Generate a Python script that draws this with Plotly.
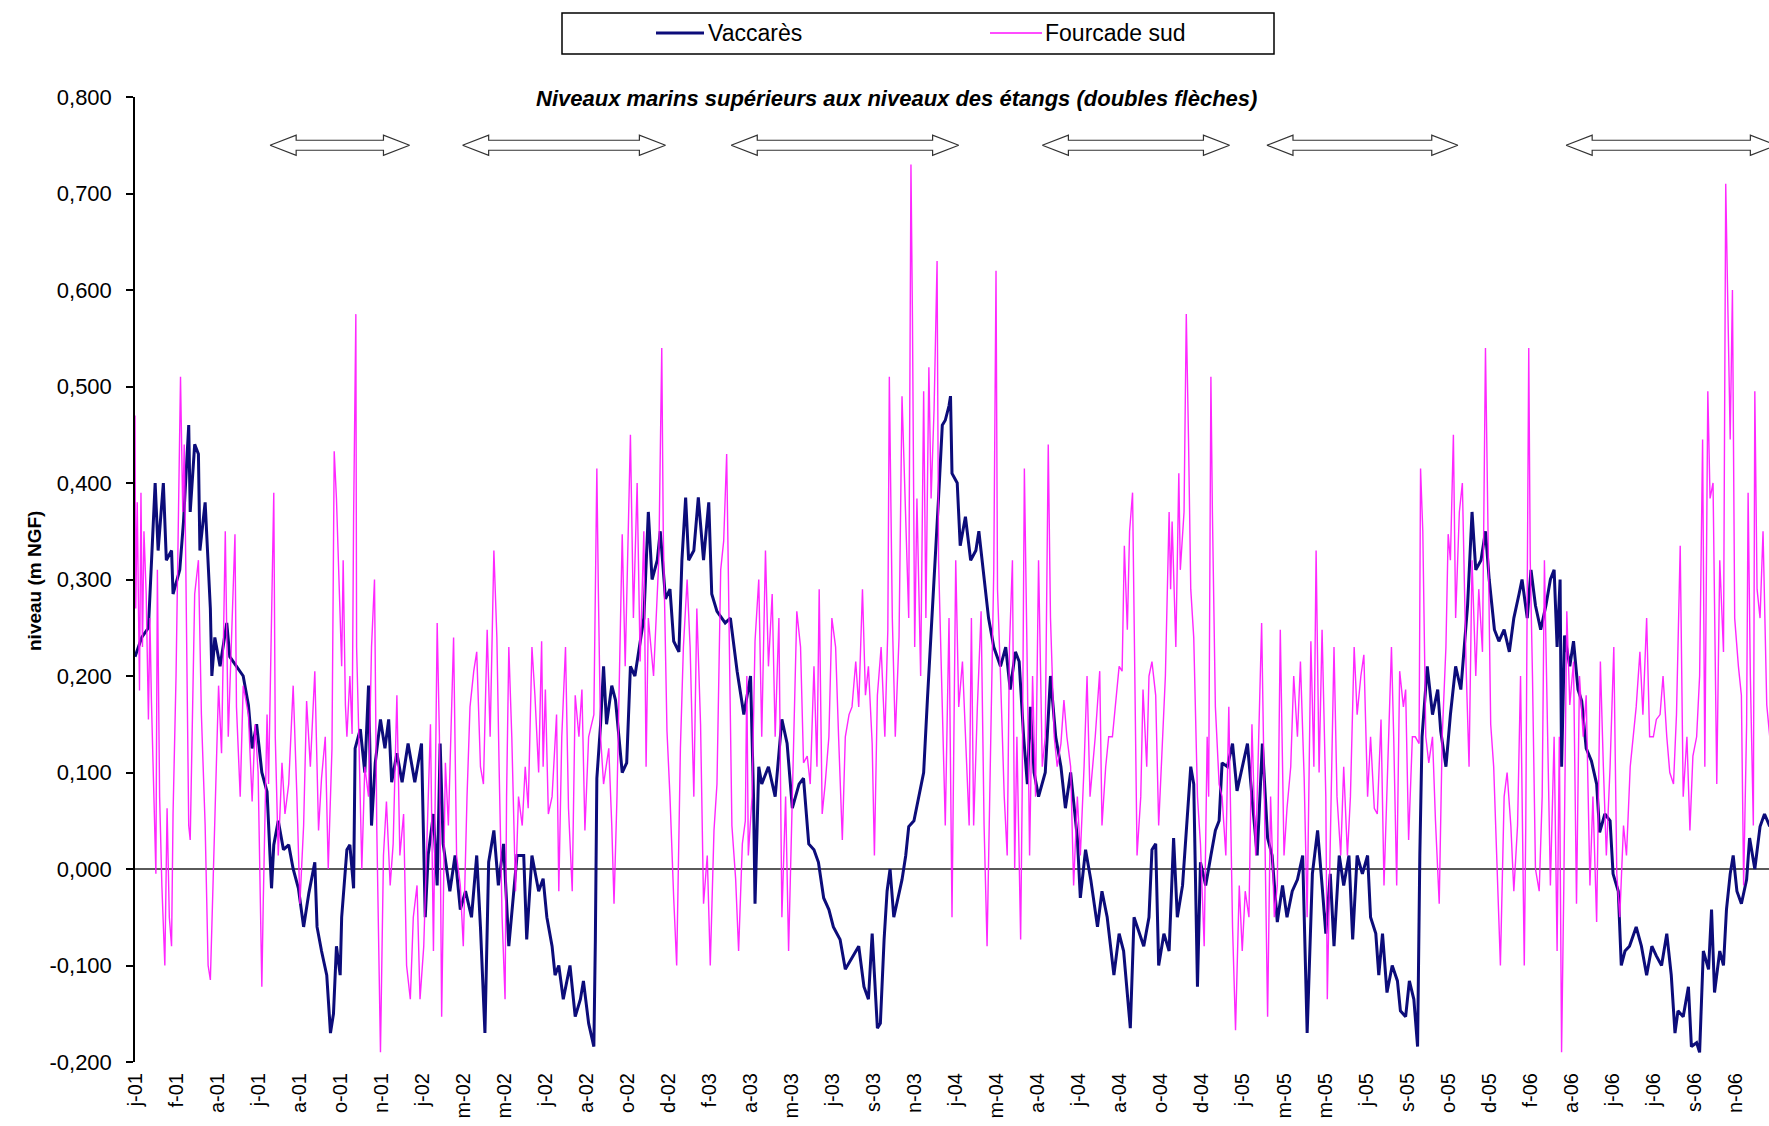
import pandas as pd
import plotly.graph_objects as go

START = pd.Timestamp("2001-01-01")
END = pd.Timestamp("2006-12-31")

# ---- Vaccarès (day offset from 2001-01-01, level m NGF) ----
vac_day = [
    0, 9, 18, 27, 31, 38, 42, 49, 51, 60,
    65, 72, 74, 80, 85, 87, 94, 101, 103, 107,
    114, 123, 127, 136, 145, 152, 157, 163, 170, 177,
    183, 186, 192, 199, 206, 212, 219, 226, 233, 241,
    244, 250, 257, 262, 266, 270, 275, 277, 284, 288,
    293, 295, 302, 308, 313, 317, 322, 329, 335, 340,
    344, 351, 358, 366, 375, 384, 389, 393, 400, 405,
    409, 413, 422, 429, 436, 443, 451, 458, 463, 469,
    474, 481, 487, 494, 501, 512, 521, 525, 532, 541,
    547, 552, 559, 563, 568, 574, 583, 590, 597, 601,
    608, 615, 617, 619, 624, 628, 632, 639, 644, 653,
    659, 664, 670, 675, 682, 688, 693, 700, 704, 711,
    717, 722, 729, 733, 738, 742, 749, 755, 762, 769,
    773, 780, 791, 798, 807, 816, 825, 829, 831, 836,
    840, 849, 858, 867, 874, 881, 890, 896, 903, 910,
    916, 923, 930, 936, 945, 952, 963, 970, 977, 983,
    988, 995, 999, 1004, 1008, 1012, 1017, 1021, 1028, 1033,
    1037, 1044, 1050, 1057, 1062, 1066, 1073, 1077, 1082, 1086,
    1091, 1093, 1095, 1102, 1106, 1113, 1120, 1127, 1131, 1138,
    1144, 1151, 1160, 1167, 1173, 1180, 1185, 1191, 1196, 1200,
    1205, 1211, 1220, 1227, 1234, 1241, 1247, 1254, 1263, 1267,
    1274, 1281, 1290, 1296, 1303, 1312, 1319, 1325, 1334, 1339,
    1346, 1352, 1359, 1363, 1368, 1372, 1379, 1386, 1392, 1397,
    1404, 1410, 1415, 1419, 1424, 1428, 1435, 1442, 1448, 1453,
    1457, 1464, 1471, 1477, 1484, 1491, 1497, 1504, 1511, 1518,
    1524, 1531, 1538, 1544, 1551, 1558, 1565, 1571, 1578, 1585,
    1591, 1596, 1602, 1607, 1614, 1620, 1627, 1632, 1638, 1645,
    1652, 1656, 1663, 1667, 1672, 1678, 1685, 1692, 1696, 1703,
    1708, 1714, 1719, 1722, 1725, 1732, 1739, 1746, 1750, 1757,
    1763, 1770, 1777, 1786, 1792, 1797, 1804, 1810, 1815, 1822,
    1828, 1835, 1842, 1848, 1855, 1859, 1866, 1871, 1877, 1884,
    1891, 1897, 1902, 1906, 1910, 1912, 1916, 1923, 1928, 1934,
    1939, 1945, 1952, 1959, 1963, 1970, 1977, 1981, 1988, 1992,
    1997, 2003, 2012, 2019, 2026, 2033, 2039, 2046, 2053, 2059,
    2064, 2068, 2075, 2082, 2086, 2093, 2097, 2102, 2109, 2113,
    2117, 2124, 2129, 2133, 2138, 2142, 2147, 2153, 2160, 2164,
    2171, 2178, 2184, 2191,
]
vac_level = [
    0.22, 0.24, 0.25, 0.40, 0.33, 0.40, 0.32, 0.33, 0.285, 0.31,
    0.36, 0.46, 0.37, 0.44, 0.43, 0.33, 0.38, 0.27, 0.20, 0.24,
    0.21, 0.255, 0.22, 0.21, 0.20, 0.17, 0.125, 0.15, 0.10, 0.08,
    -0.02, 0.025, 0.05, 0.02, 0.025, 0.0, -0.02, -0.06, -0.025, 0.007,
    -0.06, -0.085, -0.11, -0.17, -0.15, -0.08, -0.11, -0.05, 0.02, 0.025,
    -0.02, 0.125, 0.145, 0.10, 0.19, 0.045, 0.11, 0.155, 0.125, 0.155,
    0.09, 0.12, 0.09, 0.13, 0.09, 0.13, -0.05, 0.015, 0.057, -0.017,
    0.13, 0.026, -0.023, 0.014, -0.042, -0.023, -0.05, 0.014, -0.06, -0.17,
    0.007, 0.04, -0.017, 0.026, -0.08, 0.014, 0.014, -0.073, 0.014, -0.023,
    -0.01, -0.05, -0.08, -0.11, -0.10, -0.135, -0.10, -0.153, -0.135, -0.116,
    -0.16, -0.184, -0.073, 0.094, 0.15, 0.21, 0.15, 0.19, 0.175, 0.10,
    0.11, 0.21, 0.20, 0.225, 0.26, 0.37, 0.30, 0.32, 0.35, 0.28,
    0.29, 0.236, 0.225, 0.32, 0.385, 0.32, 0.33, 0.385, 0.32, 0.38,
    0.285, 0.267, 0.255, 0.26, 0.205, 0.16, 0.2, 0.075, -0.036, 0.106,
    0.088, 0.106, 0.075, 0.155, 0.13, 0.063, 0.088, 0.094, 0.026, 0.02,
    0.007, -0.03, -0.042, -0.06, -0.073, -0.104, -0.09, -0.08, -0.122, -0.135,
    -0.067, -0.165, -0.16, -0.073, -0.023, 0.0, -0.05, -0.036, -0.011, 0.014,
    0.044, 0.05, 0.075, 0.10, 0.175, 0.23, 0.32, 0.385, 0.46, 0.465,
    0.48, 0.49, 0.41, 0.40, 0.335, 0.365, 0.32, 0.33, 0.35, 0.30,
    0.26, 0.23, 0.21, 0.23, 0.186, 0.225, 0.215, 0.137, 0.088, 0.168,
    0.10, 0.075, 0.10, 0.2, 0.137, 0.106, 0.063, 0.10, 0.032, -0.03,
    0.02, -0.011, -0.06, -0.023, -0.05, -0.11, -0.067, -0.085, -0.165, -0.05,
    -0.067, -0.08, -0.05, 0.02, 0.026, -0.1, -0.067, -0.085, 0.032, -0.05,
    -0.017, 0.05, 0.106, 0.088, -0.122, 0.007, -0.017, 0.014, 0.04, 0.05,
    0.11, 0.106, 0.13, 0.081, 0.106, 0.13, 0.075, 0.014, 0.13, 0.032,
    0.014, -0.055, -0.017, -0.05, -0.023, -0.011, 0.014, -0.17, -0.005, 0.04,
    -0.017, -0.067, -0.005, -0.08, 0.014, -0.017, 0.014, -0.073, 0.014, -0.005,
    0.014, -0.05, -0.067, -0.11, -0.067, -0.128, -0.1, -0.116, -0.147, -0.153,
    -0.116, -0.135, -0.184, 0.014, 0.137, 0.21, 0.16, 0.186, 0.143, 0.106,
    0.16, 0.21, 0.186, 0.273, 0.37, 0.31, 0.32, 0.35, 0.30, 0.248,
    0.236, 0.248, 0.225, 0.26, 0.285, 0.30, 0.26, 0.31, 0.273, 0.248,
    0.273, 0.30, 0.31, 0.23, 0.30, 0.106, 0.242, 0.21, 0.236, 0.186,
    0.174, 0.125, 0.112, 0.088, 0.038, 0.057, 0.05, -0.005, -0.023, -0.1,
    -0.085, -0.08, -0.06, -0.08, -0.11, -0.08, -0.09, -0.1, -0.067, -0.11,
    -0.17, -0.147, -0.153, -0.122, -0.184, -0.18, -0.19, -0.085, -0.104, -0.042,
    -0.128, -0.085, -0.1, -0.042, -0.005, 0.014, -0.023, -0.036, -0.011, 0.032,
    0.0, 0.044, 0.057, 0.044,
]

# ---- Fourcade sud (day offset from 2001-01-01, level m NGF) ----
fou_day = [
    0, 1, 3, 6, 8, 10, 12, 15, 18, 20,
    22, 26, 28, 30, 33, 36, 40, 43, 46, 49,
    51, 55, 58, 61, 64, 66, 68, 72, 74, 80,
    85, 89, 94, 98, 101, 107, 112, 116, 121, 125,
    130, 134, 136, 141, 145, 152, 157, 161, 165, 170,
    172, 177, 179, 186, 188, 192, 197, 201, 206, 212,
    217, 221, 226, 230, 235, 241, 246, 250, 255, 259,
    264, 267, 270, 273, 277, 279, 282, 284, 288, 291,
    293, 296, 297, 300, 304, 308, 313, 317, 321, 324,
    329, 333, 337, 342, 346, 351, 355, 360, 364, 369,
    373, 378, 382, 387, 391, 396, 400, 405, 408, 411,
    416, 420, 427, 431, 436, 440, 445, 449, 454, 458,
    463, 467, 472, 476, 481, 485, 488, 492, 496, 498,
    501, 505, 510, 514, 519, 523, 527, 532, 536, 541,
    545, 547, 550, 554, 559, 565, 568, 572, 577, 581,
    586, 590, 595, 599, 603, 608, 615, 619, 621, 624,
    628, 635, 639, 642, 646, 653, 657, 660, 664, 668,
    673, 677, 682, 685, 688, 695, 702, 706, 708, 713,
    717, 722, 726, 731, 735, 740, 744, 749, 753, 758,
    762, 767, 771, 776, 780, 785, 789, 793, 796, 800,
    805, 809, 814, 818, 820, 822, 827, 831, 836, 840,
    845, 849, 854, 858, 863, 867, 872, 876, 881, 887,
    892, 896, 901, 905, 910, 914, 917, 921, 925, 930,
    934, 939, 943, 948, 952, 957, 961, 966, 970, 975,
    979, 983, 988, 991, 995, 1000, 1005, 1009, 1011, 1015,
    1019, 1024, 1028, 1033, 1037, 1040, 1042, 1045, 1048, 1053,
    1057, 1060, 1064, 1067, 1071, 1075, 1077, 1082, 1086, 1091,
    1095, 1100, 1104, 1109, 1113, 1118, 1121, 1124, 1129, 1134,
    1138, 1142, 1147, 1151, 1154, 1156, 1160, 1165, 1169, 1172,
    1176, 1179, 1182, 1187, 1189, 1192, 1196, 1199, 1203, 1207,
    1211, 1216, 1220, 1224, 1227, 1232, 1236, 1241, 1245, 1249,
    1254, 1258, 1263, 1267, 1272, 1276, 1280, 1283, 1287, 1293,
    1296, 1301, 1305, 1310, 1314, 1319, 1323, 1326, 1330, 1333,
    1337, 1340, 1343, 1348, 1351, 1356, 1359, 1363, 1368, 1372,
    1377, 1381, 1386, 1388, 1390, 1395, 1399, 1401, 1406, 1409,
    1412, 1415, 1419, 1424, 1428, 1433, 1437, 1439, 1442, 1444,
    1448, 1453, 1457, 1462, 1466, 1471, 1475, 1480, 1484, 1488,
    1493, 1497, 1502, 1506, 1510, 1513, 1518, 1522, 1527, 1531,
    1535, 1540, 1544, 1549, 1553, 1558, 1562, 1567, 1571, 1576,
    1580, 1583, 1587, 1591, 1596, 1598, 1602, 1607, 1611, 1616,
    1620, 1625, 1629, 1634, 1638, 1643, 1647, 1652, 1656, 1661,
    1665, 1670, 1674, 1678, 1684, 1687, 1691, 1695, 1700, 1703,
    1707, 1712, 1716, 1721, 1723, 1726, 1730, 1734, 1739, 1743,
    1748, 1752, 1757, 1760, 1763, 1767, 1770, 1775, 1779, 1784,
    1788, 1792, 1797, 1801, 1806, 1810, 1813, 1817, 1821, 1826,
    1830, 1835, 1839, 1844, 1848, 1853, 1857, 1862, 1864, 1868,
    1870, 1873, 1877, 1882, 1886, 1889, 1893, 1897, 1902, 1906,
    1909, 1912, 1915, 1919, 1923, 1928, 1932, 1936, 1941, 1945,
    1950, 1954, 1959, 1964, 1968, 1972, 1977, 1982, 1986, 1990,
    1995, 1999, 2004, 2008, 2012, 2017, 2021, 2026, 2030, 2035,
    2039, 2044, 2048, 2053, 2057, 2062, 2066, 2071, 2075, 2080,
    2084, 2088, 2093, 2097, 2101, 2104, 2108, 2111, 2115, 2120,
    2124, 2129, 2132, 2134, 2138, 2141, 2144, 2149, 2153, 2156,
    2160, 2162, 2165, 2169, 2171, 2174, 2178, 2182, 2187, 2191,
]
fou_level = [
    0.47, 0.27, 0.38, 0.185, 0.39, 0.23, 0.35, 0.285, 0.155, 0.26,
    0.175, 0.063, -0.005, 0.31, 0.075, -0.017, -0.10, 0.063, -0.05, -0.08,
    0.057, 0.2, 0.38, 0.51, 0.37, 0.44, 0.32, 0.045, 0.03, 0.285,
    0.32, 0.16, 0.045, -0.10, -0.115, 0.045, 0.19, 0.12, 0.35, 0.137,
    0.26, 0.347, 0.168, 0.075, 0.19, 0.16, 0.07, 0.15, 0.10, -0.122,
    -0.03, 0.16, 0.088, 0.39, 0.137, 0.014, 0.11, 0.057, 0.088, 0.19,
    0.075, -0.036, 0.045, 0.174, 0.106, 0.205, 0.04, 0.094, 0.137, 0.0,
    0.125, 0.433, 0.384, 0.31, 0.21, 0.32, 0.17, 0.137, 0.2, 0.14,
    0.365, 0.575, 0.23, 0.137, 0.0, 0.106, 0.075, 0.23, 0.30, 0.045,
    -0.19, 0.014, 0.07, -0.017, 0.026, 0.18, 0.014, 0.057, -0.1, -0.135,
    -0.05, -0.017, -0.135, -0.08, 0.026, 0.15, -0.085, 0.255, 0.137, -0.153,
    0.11, 0.045, 0.24, 0.014, -0.017, -0.08, 0.075, 0.168, 0.205, 0.225,
    0.106, 0.088, 0.248, 0.137, 0.33, 0.24, 0.106, -0.05, -0.135, 0.075,
    0.23, 0.137, -0.023, 0.075, 0.045, 0.106, 0.063, 0.23, 0.18, 0.10,
    0.236, 0.106, 0.186, 0.057, 0.075, 0.16, -0.023, 0.137, 0.23, 0.063,
    -0.023, 0.18, 0.137, 0.186, 0.04, 0.137, 0.16, 0.415, 0.29, 0.137,
    0.088, 0.125, 0.045, -0.036, 0.075, 0.347, 0.21, 0.31, 0.45, 0.26,
    0.40, 0.215, 0.35, 0.106, 0.26, 0.2, 0.32, 0.54, 0.35, 0.143,
    0.075, -0.03, -0.1, 0.125, 0.23, 0.30, 0.23, 0.075, 0.27, 0.15,
    -0.036, 0.014, -0.1, 0.04, 0.088, 0.31, 0.34, 0.43, 0.26, 0.045,
    -0.01, -0.085, 0.026, 0.05, 0.2, 0.014, 0.075, 0.236, 0.30, 0.137,
    0.33, 0.21, 0.285, 0.137, 0.26, -0.05, 0.075, -0.085, 0.075, 0.267,
    0.23, 0.11, 0.117, 0.088, 0.21, 0.106, 0.29, 0.057, 0.088, 0.137,
    0.26, 0.23, 0.137, 0.03, 0.137, 0.16, 0.168, 0.215, 0.168, 0.29,
    0.18, 0.21, 0.13, 0.014, 0.18, 0.23, 0.137, 0.248, 0.51, 0.26,
    0.137, 0.24, 0.49, 0.35, 0.26, 0.73, 0.57, 0.23, 0.384, 0.2,
    0.495, 0.26, 0.52, 0.384, 0.477, 0.63, 0.32, 0.168, 0.045, 0.26,
    -0.05, 0.32, 0.168, 0.215, 0.137, 0.045, 0.26, 0.045, 0.168, 0.267,
    0.045, -0.08, 0.137, 0.31, 0.62, 0.29, 0.2, 0.075, 0.014, 0.23,
    0.32, 0.0, 0.137, -0.073, 0.075, 0.415, 0.2, 0.014, 0.2, 0.075,
    0.32, 0.106, 0.137, 0.44, 0.26, 0.137, 0.106, 0.13, 0.175, 0.137,
    0.106, -0.017, 0.075, 0.014, 0.106, 0.2, 0.075, 0.1, 0.137, 0.205,
    0.045, 0.106, 0.137, 0.137, 0.168, 0.21, 0.205, 0.335, 0.248, 0.35,
    0.39, 0.2, 0.014, 0.075, 0.186, 0.106, 0.2, 0.215, 0.18, 0.045,
    0.137, 0.2, 0.37, 0.29, 0.36, 0.23, 0.41, 0.31, 0.37, 0.575,
    0.445, 0.29, 0.24, 0.075, 0.026, -0.08, 0.137, 0.075, 0.51, 0.37,
    0.168, 0.088, 0.075, 0.014, 0.168, -0.06, -0.167, -0.017, -0.085, -0.023,
    -0.05, 0.15, 0.014, 0.137, 0.255, 0.106, -0.153, 0.075, -0.05, -0.017,
    0.248, 0.014, 0.063, 0.106, 0.2, 0.137, 0.215, 0.094, -0.05, 0.236,
    0.106, 0.33, 0.1, 0.248, 0.075, -0.135, 0.045, 0.23, 0.075, 0.014,
    0.106, 0.014, 0.075, 0.23, 0.16, 0.2, 0.222, 0.075, 0.137, 0.063,
    0.057, 0.155, -0.017, 0.075, 0.23, 0.137, -0.017, 0.205, 0.168, 0.186,
    0.03, 0.137, 0.137, 0.13, 0.415, 0.35, 0.137, 0.11, 0.137, 0.05,
    -0.036, 0.137, 0.23, 0.347, 0.32, 0.45, 0.26, 0.37, 0.40, 0.21,
    0.106, 0.32, 0.2, 0.29, 0.225, 0.54, 0.35, 0.15, 0.106, -0.017,
    -0.1, 0.075, 0.1, 0.045, -0.023, 0.045, 0.2, -0.1, 0.045, 0.54,
    0.32, 0.2, 0.0, -0.023, 0.075, 0.32, 0.137, -0.017, 0.137, -0.085,
    0.137, -0.19, -0.017, 0.267, 0.17, 0.215, -0.036, 0.2, 0.137, 0.18,
    -0.017, 0.075, -0.055, 0.215, 0.106, 0.014, 0.106, 0.23, -0.005, -0.05,
    0.045, 0.014, 0.106, 0.137, 0.168, 0.225, 0.16, 0.26, 0.137, 0.137,
    0.155, 0.16, 0.2, 0.137, 0.1, 0.088, 0.16, 0.335, 0.075, 0.137,
    0.04, 0.117, 0.137, 0.2, 0.445, 0.106, 0.495, 0.384, 0.40, 0.088,
    0.32, 0.225, 0.71, 0.62, 0.445, 0.60, 0.26, 0.21, 0.18, -0.017,
    0.15, 0.39, 0.2, 0.045, 0.495, 0.29, 0.26, 0.35, 0.17, 0.137,
]

assert len(vac_day) == len(vac_level)
assert len(fou_day) == len(fou_level)

# ---- axis ticks ----
x_tick_labels = [
    "j-01", "f-01", "a-01", "j-01", "a-01", "o-01", "n-01", "j-02", "m-02", "m-02",
    "j-02", "a-02", "o-02", "d-02", "f-03", "a-03", "m-03", "j-03", "s-03", "n-03",
    "j-04", "m-04", "a-04", "j-04", "a-04", "o-04", "d-04", "j-05", "m-05", "m-05",
    "j-05", "s-05", "o-05", "d-05", "f-06", "a-06", "j-06", "j-06", "s-06", "n-06",
]
X_TICK_STEP_DAYS = 55
y_tick_values = [-0.2, -0.1, 0.0, 0.1, 0.2, 0.3, 0.4, 0.5, 0.6, 0.7, 0.8]
y_tick_labels = ["-0,200", "-0,100", "0,000", "0,100", "0,200", "0,300",
                 "0,400", "0,500", "0,600", "0,700", "0,800"]

# ---- periods with sea level above lagoon level (double arrows) ----
arrow_start = ["2001-07-01", "2002-03-16", "2003-03-11", "2004-05-01", "2005-02-26", "2006-04-03"]
arrow_end = ["2002-01-04", "2002-12-13", "2004-01-10", "2005-01-07", "2005-11-09", "2007-01-10"]

FONT = "Arial, Liberation Sans, sans-serif"
NAVY = "#0c0c7a"
MAGENTA = "#ff10ff"

def to_dates(days):
    return [START + pd.Timedelta(days=d) for d in days]

fig = go.Figure()
fig.add_trace(go.Scatter(x=to_dates(vac_day), y=vac_level, mode="lines",
                         name="Vaccarès", line=dict(color=NAVY, width=3),
                         showlegend=False, hoverinfo="skip"))
fig.add_trace(go.Scatter(x=to_dates(fou_day), y=fou_level, mode="lines",
                         name="Fourcade sud", line=dict(color=MAGENTA, width=1.4),
                         opacity=0.9, showlegend=False, hoverinfo="skip"))

# hollow double arrows
ARROW_Y = 0.750
HEAD_HALF = 0.0104
SHAFT_HALF = 0.0052
HEAD = pd.Timedelta(days=35)
for s, e in zip(arrow_start, arrow_end):
    s = pd.Timestamp(s)
    e = pd.Timestamp(e)
    xs = [s, s + HEAD, s + HEAD, e - HEAD, e - HEAD, e, e - HEAD, e - HEAD, s + HEAD, s + HEAD, s]
    ys = [ARROW_Y, ARROW_Y + HEAD_HALF, ARROW_Y + SHAFT_HALF, ARROW_Y + SHAFT_HALF,
          ARROW_Y + HEAD_HALF, ARROW_Y, ARROW_Y - HEAD_HALF, ARROW_Y - SHAFT_HALF,
          ARROW_Y - SHAFT_HALF, ARROW_Y - HEAD_HALF, ARROW_Y]
    fig.add_trace(go.Scatter(x=xs, y=ys, mode="lines", fill="toself", fillcolor="white",
                             line=dict(color="#333333", width=1.2),
                             showlegend=False, hoverinfo="skip"))

tick_dates = [START + pd.Timedelta(days=X_TICK_STEP_DAYS * i) for i in range(len(x_tick_labels))]

W, H = 1769, 1126
L, T, B = 135, 97, 64
plot_w = W - L
plot_h = H - T - B

def px(xp):
    return (xp - L) / plot_w

def py(yp):
    return (H - B - yp) / plot_h

fig.update_layout(
    width=W, height=H,
    margin=dict(l=L, r=0, t=T, b=B),
    paper_bgcolor="white", plot_bgcolor="white",
    font=dict(family=FONT, color="black"),
    separators=", ",
    xaxis=dict(
        type="date", range=[START, END],
        tickvals=tick_dates, ticktext=x_tick_labels,
        tickangle=-90, tickfont=dict(size=20, family=FONT),
        ticks="", showline=False, showgrid=False, zeroline=False,
        ticklabelstandoff=6,
    ),
    yaxis=dict(
        range=[-0.2, 0.8], tickvals=y_tick_values, ticktext=y_tick_labels,
        tickfont=dict(size=22, family=FONT),
        ticks="outside", ticklen=7, tickwidth=1.5, tickcolor="black",
        showline=True, linecolor="black", linewidth=1.5,
        showgrid=False, zeroline=True, zerolinecolor="#5a5a5a", zerolinewidth=1.6,
        ticklabelstandoff=10,
    ),
    shapes=[
        dict(type="rect", xref="paper", yref="paper",
             x0=px(562), x1=px(1274), y0=py(54), y1=py(13),
             line=dict(color="black", width=1.5), fillcolor="white"),
        dict(type="line", xref="paper", yref="paper",
             x0=px(656), x1=px(704), y0=py(33), y1=py(33),
             line=dict(color=NAVY, width=3)),
        dict(type="line", xref="paper", yref="paper",
             x0=px(990), x1=px(1042), y0=py(33), y1=py(33),
             line=dict(color=MAGENTA, width=1.5)),
    ],
    annotations=[
        dict(text="Vaccarès", xref="paper", yref="paper", x=px(706), y=py(33),
             xanchor="left", yanchor="middle", showarrow=False,
             font=dict(size=23, family=FONT)),
        dict(text="Fourcade sud", xref="paper", yref="paper", x=px(1043), y=py(33),
             xanchor="left", yanchor="middle", showarrow=False,
             font=dict(size=23, family=FONT)),
        dict(text="<b><i>Niveaux marins supérieurs aux niveaux des étangs (doubles flèches)</i></b>",
             xref="paper", yref="paper", x=px(896), y=py(99),
             xanchor="center", yanchor="middle", showarrow=False,
             font=dict(size=22, family=FONT)),
        dict(text="<b>niveau (m NGF)</b>", xref="paper", yref="paper",
             x=px(34), y=py(581), xanchor="center", yanchor="middle",
             textangle=-90, showarrow=False, font=dict(size=19, family=FONT)),
    ],
)

fig.write_html("out.html", config={"displayModeBar": False},
               post_script="document.body.style.margin='0';")
